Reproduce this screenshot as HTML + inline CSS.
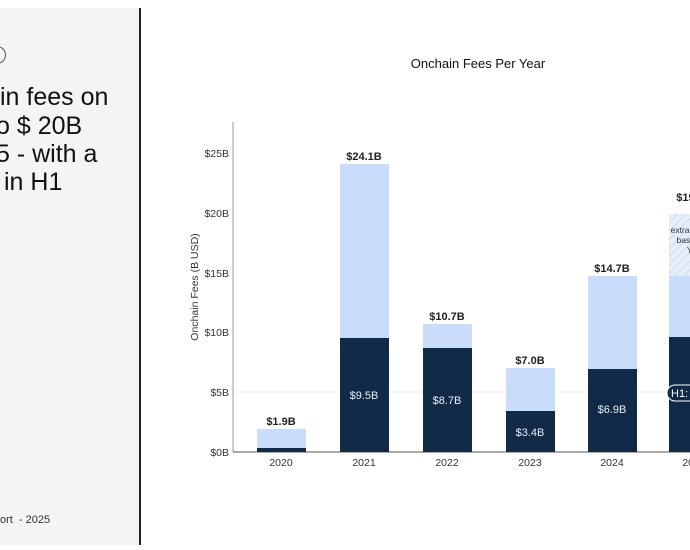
<!DOCTYPE html>
<html><head><style>
body{margin:0;width:690px;height:550px;background:#fff;overflow:hidden;position:relative;font-family:"Liberation Sans",sans-serif}
.panel{position:absolute;left:0;top:8px;width:139px;height:537px;background:#f4f4f4}
.div{position:absolute;left:139px;top:8px;width:2px;height:537px;background:#222}
.h{position:absolute;left:0;font-size:25px;color:#111;white-space:nowrap;line-height:28px}
</style></head><body>
<div class="panel"></div>
<div class="div"></div>
<div style="position:absolute;left:-12px;top:46px;width:16px;height:16px;border:1.5px solid #555;border-radius:50%"></div>
<div class="h" style="top:83px;left:0">in fees on</div>
<div class="h" style="top:112px;left:-4px">o $ 20B</div>
<div class="h" style="top:140px;left:-4px">5 - with a</div>
<div class="h" style="top:168px;left:4px">in H1</div>
<div style="position:absolute;left:0;top:514px;font-size:11px;color:#333">ort&nbsp; - 2025</div>
<svg width="690" height="550" style="position:absolute;left:0;top:0" font-family="Liberation Sans, sans-serif">
<defs><pattern id="hp" width="6" height="6" patternUnits="userSpaceOnUse" patternTransform="rotate(45)"><rect width="6" height="6" fill="#e6eefa"/><line x1="0" y1="0" x2="0" y2="6" stroke="#cdd9ee" stroke-width="2"/></pattern></defs>
<text x="478" y="68" font-size="13" text-anchor="middle" fill="#111">Onchain Fees Per Year</text>
<line x1="233" y1="392" x2="690" y2="392" stroke="#eee"/>
<line x1="233" y1="122" x2="233" y2="452" stroke="#999"/>
<line x1="233" y1="452" x2="690" y2="452" stroke="#555"/>
<g font-size="10.5" fill="#333" text-anchor="end">
<text x="229" y="456">$0B</text><text x="229" y="396">$5B</text><text x="229" y="336">$10B</text><text x="229" y="277">$15B</text><text x="229" y="217">$20B</text><text x="229" y="157">$25B</text></g>
<text transform="translate(198,287) rotate(-90)" font-size="10.5" fill="#333" text-anchor="middle">Onchain Fees (B USD)</text>
<g fill="#c9ddfb">
<rect x="257" y="429" width="49" height="23"/><rect x="340" y="164" width="49" height="288"/><rect x="423" y="324" width="49" height="128"/><rect x="506" y="368" width="49" height="84"/><rect x="588" y="276" width="49" height="176"/><rect x="669" y="276" width="49" height="176"/></g>
<rect x="669" y="214" width="49" height="62" fill="url(#hp)"/>
<g fill="#102a47">
<rect x="257" y="448" width="49" height="4"/><rect x="340" y="338" width="49" height="114"/><rect x="423" y="348" width="49" height="104"/><rect x="506" y="411" width="49" height="41"/><rect x="588" y="369" width="49" height="83"/><rect x="669" y="337" width="49" height="115"/></g>
<g font-size="11" fill="#e8eef6" text-anchor="middle">
<text x="364" y="399">$9.5B</text><text x="447" y="404">$8.7B</text><text x="530" y="436">$3.4B</text><text x="612" y="413">$6.9B</text></g>
<g font-size="11" font-weight="bold" fill="#222" text-anchor="middle">
<text x="281" y="425">$1.9B</text><text x="364" y="160">$24.1B</text><text x="447" y="320">$10.7B</text><text x="530" y="364">$7.0B</text><text x="612" y="272">$14.7B</text><text x="694" y="201">$19.8B</text></g>
<g font-size="8.5" fill="#333" text-anchor="middle"><text x="694" y="233">extrapolated</text><text x="694" y="243">based on</text><text x="694" y="253">YtD</text></g>
<rect x="667" y="385" width="60" height="16" rx="8" fill="#102a47" stroke="#fff"/>
<text x="671" y="397" font-size="11" fill="#fff">H1: $9.7B</text>
<g font-size="10.5" fill="#333" text-anchor="middle">
<text x="281" y="466">2020</text><text x="364" y="466">2021</text><text x="447" y="466">2022</text><text x="530" y="466">2023</text><text x="612" y="466">2024</text><text x="694" y="466">2025</text></g>
</svg>
</body></html>
